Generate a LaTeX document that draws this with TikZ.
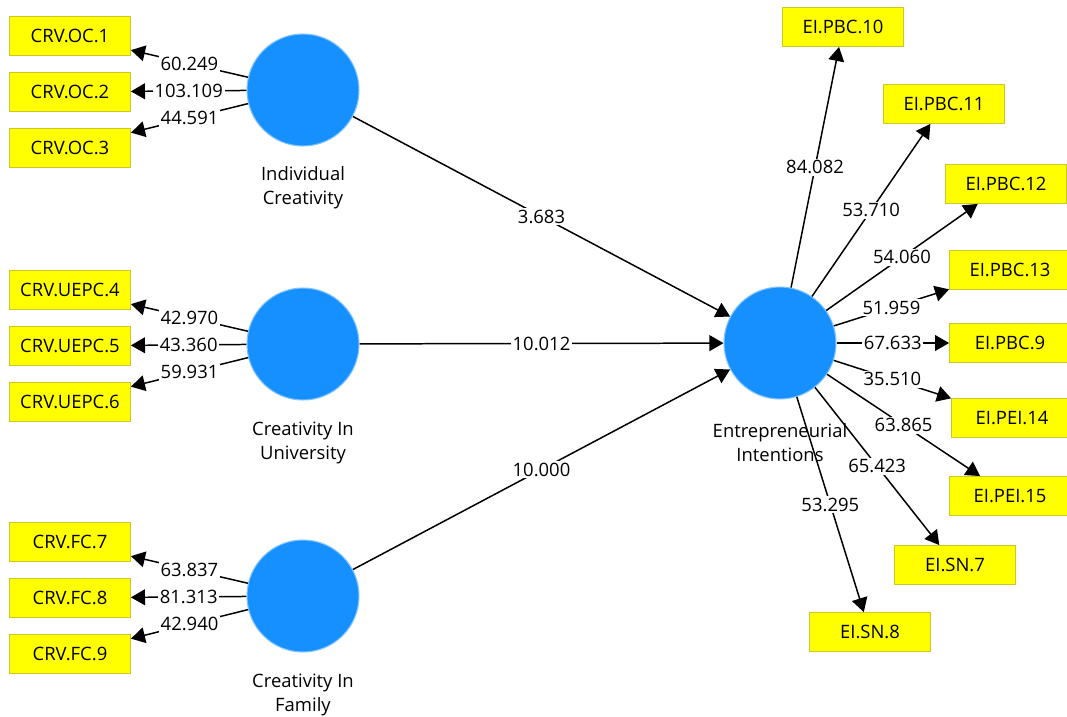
\documentclass[tikz,border=0pt]{standalone}
\usepackage{fontspec}
\setmainfont{Open Sans}
\usetikzlibrary{arrows.meta, positioning}
\definecolor{lvblue}{RGB}{22,144,255}
\definecolor{mvyellow}{RGB}{255,255,0}
\definecolor{mvedge}{RGB}{200,200,40}

\begin{document}
\begin{tikzpicture}[x=0.02cm, y=-0.02cm, lvstyle/.style = {circle, draw=lvblue!55!white, line width=0.6pt, fill=lvblue, minimum size=2.24cm, inner sep=0pt}, mvstyle/.style = {rectangle, draw=mvedge, line width=0.5pt, fill=mvyellow, minimum width=2.42cm, minimum height=0.78cm, inner sep=0pt}, namestyle/.style={align=center, font=\fontsize{10.5}{13.6}\selectfont}, valstyle/.style={fill=white, inner sep=1pt}, pathstyle/.style={-{Triangle[length=8pt,width=9pt]}, line width=0.85pt}]
  \tikzstyle{every node}=[font=\fontsize{10.5}{12.6}\selectfont]
  \useasboundingbox (0,0) rectangle (1067,716);

  % Individual Creativity
  \node[lvstyle] (ic) at (303,90) {};
  \node[namestyle] (icname) at (303,188) {Individual\\Creativity};
  \node[mvstyle] (oc1) at (70,36) {CRV.OC.1};
  \node[mvstyle, below=0.32cm of oc1] (oc2) {CRV.OC.2};
  \node[mvstyle, below=0.32cm of oc2] (oc3) {CRV.OC.3};

  % Creativity In University
  \node[lvstyle] (cu) at (303,344) {};
  \node[namestyle] (cuname) at (303,443) {Creativity In\\University};
  \node[mvstyle] (uepc4) at (70,290) {CRV.UEPC.4};
  \node[mvstyle, below=0.32cm of uepc4] (uepc5) {CRV.UEPC.5};
  \node[mvstyle, below=0.32cm of uepc5] (uepc6) {CRV.UEPC.6};

  % Creativity In Family
  \node[lvstyle] (cf) at (303,596) {};
  \node[namestyle] (cfname) at (303,695) {Creativity In\\Family};
  \node[mvstyle] (fc7) at (70,542) {CRV.FC.7};
  \node[mvstyle, below=0.32cm of fc7] (fc8) {CRV.FC.8};
  \node[mvstyle, below=0.32cm of fc8] (fc9) {CRV.FC.9};

  % Entrepreneurial Intentions
  \node[lvstyle] (ei) at (780,343) {};
  \node[namestyle] (einame) at (780,443) {Entrepreneurial\\Intentions};
  \node[mvstyle] (pbc10) at (843,27) {EI.PBC.10};
  \node[mvstyle] (pbc11) at (944,104) {EI.PBC.11};
  \node[mvstyle] (pbc12) at (1006,184) {EI.PBC.12};
  \node[mvstyle] (pbc13) at (1010,270) {EI.PBC.13};
  \node[mvstyle] (pbc9) at (1010,343) {EI.PBC.9};
  \node[mvstyle] (pei14) at (1012,418) {EI.PEI.14};
  \node[mvstyle] (pei15) at (1010,496) {EI.PEI.15};
  \node[mvstyle] (sn7) at (955,565) {EI.SN.7};
  \node[mvstyle] (sn8) at (870,632) {EI.SN.8};

  % outer arrows (left)
  \draw[pathstyle] (ic) -- node[valstyle] (v1) {60.249} (oc1);
  \draw[pathstyle] (ic) -- node[valstyle] (v2) {103.109} (oc2);
  \draw[pathstyle] (ic) -- node[valstyle] (v3) {44.591} (oc3);
  \draw[pathstyle] (cu) -- node[valstyle] (v4) {42.970} (uepc4);
  \draw[pathstyle] (cu) -- node[valstyle] (v5) {43.360} (uepc5);
  \draw[pathstyle] (cu) -- node[valstyle] (v6) {59.931} (uepc6);
  \draw[pathstyle] (cf) -- node[valstyle] (v7) {63.837} (fc7);
  \draw[pathstyle] (cf) -- node[valstyle] (v8) {81.313} (fc8);
  \draw[pathstyle] (cf) -- node[valstyle] (v9) {42.940} (fc9);

  % inner arrows
  \draw[pathstyle] (ic) -- node[valstyle] (b1) {3.683} (ei);
  \draw[pathstyle] (cu) -- node[valstyle] (b2) {10.012} (ei);
  \draw[pathstyle] (cf) -- node[valstyle] (b3) {10.000} (ei);

  % outer arrows (right)
  \draw[pathstyle] (ei) -- node[valstyle] (w10) {84.082} (pbc10);
  \draw[pathstyle] (ei) -- node[valstyle] (w11) {53.710} (pbc11);
  \draw[pathstyle] (ei) -- node[valstyle] (w12) {54.060} (pbc12);
  \draw[pathstyle] (ei) -- node[valstyle] (w13) {51.959} (pbc13);
  \draw[pathstyle] (ei) -- node[valstyle] (w9) {67.633} (pbc9);
  \draw[pathstyle] (ei) -- node[valstyle] (w14) {35.510} (pei14);
  \draw[pathstyle] (ei) -- node[valstyle] (w15) {63.865} (pei15);
  \draw[pathstyle] (ei) -- node[valstyle] (w7) {65.423} (sn7);
  \draw[pathstyle] (ei) -- node[valstyle] (w8) {53.295} (sn8);

\end{tikzpicture}
\end{document}
